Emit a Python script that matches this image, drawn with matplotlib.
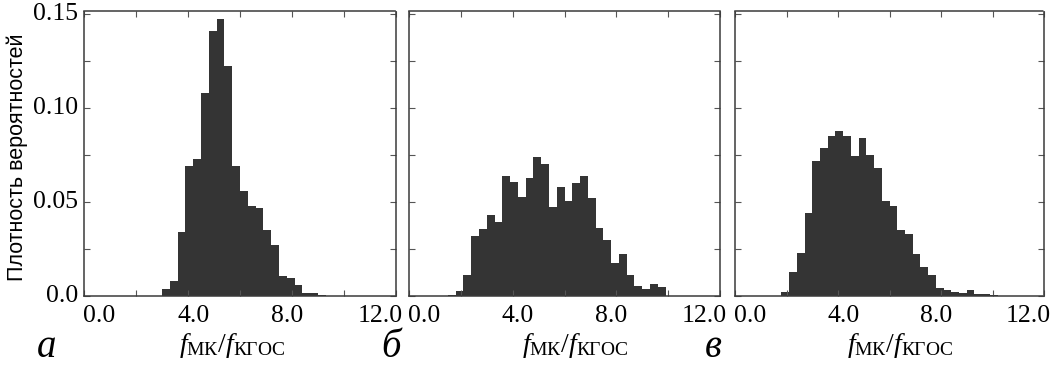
import matplotlib
matplotlib.use("Agg")
import matplotlib.pyplot as plt
import matplotlib.transforms as mtransforms

# ---- data ----
bin_width = 0.3
bin_left = [0.0, 0.3, 0.6, 0.9, 1.2, 1.5, 1.8, 2.1, 2.4, 2.7,
            3.0, 3.3, 3.6, 3.9, 4.2, 4.5, 4.8, 5.1, 5.4, 5.7,
            6.0, 6.3, 6.6, 6.9, 7.2, 7.5, 7.8, 8.1, 8.4, 8.7,
            9.0, 9.3, 9.6, 9.9, 10.2, 10.5, 10.8, 11.1, 11.4, 11.7]

density_a = [0, 0, 0, 0, 0, 0, 0, 0, 0, 0,
             0.0035, 0.0080, 0.0340, 0.0690, 0.0730, 0.1080, 0.1410, 0.1470, 0.1220, 0.0690,
             0.0560, 0.0480, 0.0470, 0.0350, 0.0270, 0.0106, 0.0094, 0.0059, 0.0014, 0.0014,
             0.0005, 0, 0, 0, 0, 0, 0, 0, 0, 0]

density_b = [0, 0, 0, 0, 0, 0.0004, 0.0028, 0.0112, 0.0320, 0.0356,
             0.0430, 0.0392, 0.0638, 0.0608, 0.0528, 0.0626, 0.0741, 0.0702, 0.0472, 0.0578,
             0.0505, 0.0603, 0.0640, 0.0523, 0.0360, 0.0298, 0.0174, 0.0223, 0.0112, 0.0053,
             0.0035, 0.0063, 0.0046, 0, 0, 0, 0, 0, 0, 0]

density_c = [0, 0, 0, 0, 0, 0, 0.0022, 0.0128, 0.0227, 0.0442,
             0.0719, 0.0785, 0.0850, 0.0878, 0.0848, 0.0745, 0.0839, 0.0748, 0.0679, 0.0505,
             0.0480, 0.0349, 0.0332, 0.0225, 0.0156, 0.0112, 0.0041, 0.0034, 0.0021, 0.0017,
             0.0030, 0.0011, 0.0011, 0.0005, 0, 0, 0, 0, 0, 0]

panel_letters = ["а", "б", "в"]
xtick_values = [0.0, 4.0, 8.0, 12.0]
xtick_labels = ["0.0", "4.0", "8.0", "12.0"]
ytick_values = [0.0, 0.05, 0.10, 0.15]
ytick_labels = ["0.0", "0.05", "0.10", "0.15"]
ylabel_text = "Плотность вероятностей"
xlabel_text = r"$f_{\mathrm{МК}}/f_{\mathrm{КГОС}}$"

# ---- style ----
plt.rcParams["mathtext.fontset"] = "custom"
plt.rcParams["mathtext.rm"] = "Liberation Serif"
plt.rcParams["mathtext.it"] = "Liberation Serif:italic"
plt.rcParams["mathtext.bf"] = "Liberation Serif:bold"

W, H = 1056, 367
fig = plt.figure(figsize=(W / 100, H / 100), dpi=100)

panels_px = [(84, 312), (409, 311), (735, 309)]  # left, width in pixels
top_px, bottom_px = 11, 296
xlabel_centers = [5.7, 6.4, 6.4]
letter_x_px = [47, 391, 713]

series = [density_a, density_b, density_c]
bar_color = "#343434"
spine_color = "#3a3a3a"

for k, (lft, wid) in enumerate(panels_px):
    ax = fig.add_axes([lft / W, (H - bottom_px) / H, wid / W, (bottom_px - top_px) / H])
    ax.bar(bin_left, series[k], width=bin_width, align="edge",
           color=bar_color, edgecolor="none", linewidth=0)
    ax.set_xlim(0, 12)
    ax.set_ylim(0, 0.1515)
    for s in ax.spines.values():
        s.set_color(spine_color)
        s.set_linestyle((0, (1.2, 1.0)))
        s.set_linewidth(1.1)
    ax.set_xticks([0, 2, 4, 6, 8, 10, 12])
    ax.set_xticklabels([])
    ax.set_yticks([0, 0.025, 0.05, 0.075, 0.10, 0.125, 0.15])
    ax.set_yticklabels([])
    ax.tick_params(direction="in", length=4, width=0.8, color="#555555",
                   top=True, right=True, bottom=True, left=True)

    # x tick labels (placed slightly compressed as in the reference)
    trans = mtransforms.blended_transform_factory(ax.transData, ax.transAxes)
    for v, lab in zip(xtick_values, xtick_labels):
        xpos = 6 + (v - 6) * 0.9
        ax.text(xpos, -0.03, lab, transform=trans, ha="center", va="top",
                fontsize=18.5, family="Liberation Serif", clip_on=False)

    # y tick labels only on first panel
    if k == 0:
        for v, lab in zip(ytick_values, ytick_labels):
            ax.text(-0.02, v, lab, transform=mtransforms.blended_transform_factory(ax.transAxes, ax.transData),
                    ha="right", va="center", fontsize=18.5, family="Liberation Serif", clip_on=False)

    ax.text(xlabel_centers[k], -0.175, xlabel_text, transform=trans,
            ha="center", va="center", fontsize=20, clip_on=False)

    fig.text(letter_x_px[k] / W, (H - 357) / H, panel_letters[k], ha="center", va="baseline",
             fontsize=28, family="Liberation Serif", style="italic")

fig.text(17 / W, 1 - 157 / H, ylabel_text, rotation=90, ha="center", va="center",
         fontsize=15.5, family="Liberation Sans")

fig.savefig("out.png", dpi=100)
